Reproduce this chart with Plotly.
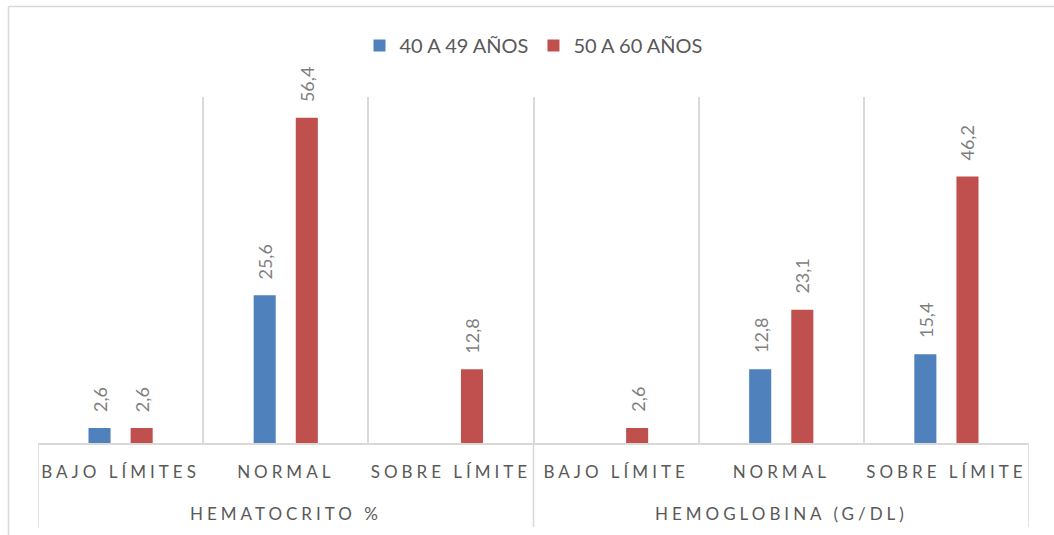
import plotly.graph_objects as go

# --- data -------------------------------------------------------------
group_names = ["HEMATOCRITO %", "HEMOGLOBINA (G/DL)"]
group_sizes = [3, 3]
categories = ["BAJO LÍMITES", "NORMAL", "SOBRE LÍMITE",
              "BAJO LÍMITE", "NORMAL", "SOBRE LÍMITE"]
series_names = ["40 A 49 AÑOS", "50 A 60 AÑOS"]
age_40_49 = [2.6, 25.6, None, None, 12.8, 15.4]
age_50_60 = [2.6, 56.4, 12.8, 2.6, 23.1, 46.2]
series_colors = ["#4F81BD", "#C0504D"]

# --- style ------------------------------------------------------------
FONT = "Lato"
TEXT_GREY = "#595959"
LABEL_GREY = "#7F7F7F"
LINE_GREY = "#D9D9D9"
BARGAP = 0.49
BARGROUPGAP = 0.476
SPACING = "4px"

positions = list(range(len(categories)))
boundaries = [p - 0.5 for p in positions] + [positions[-1] + 0.5]


def spaced(s):
    return f'<span style="letter-spacing:{SPACING}">{s}</span>'


def fmt(v):
    return f"{v:.1f}".replace(".", ",")


fig = go.Figure()
for name, values, color in zip(series_names, [age_40_49, age_50_60], series_colors):
    fig.add_trace(go.Bar(
        x=positions, y=values, name=name, marker_color=color,
        marker_line_width=0,
    ))

# value labels above each bar, rotated
slot = (1 - BARGAP) / len(series_names)
annotations = []
for k, values in enumerate([age_40_49, age_50_60]):
    offset = (k - (len(series_names) - 1) / 2) * slot
    for p, v in zip(positions, values):
        if v is None:
            continue
        annotations.append(dict(
            x=p + offset, y=v, xref="x", yref="y", text=fmt(v),
            textangle=-90, showarrow=False, xanchor="center", yanchor="bottom",
            yshift=14, font=dict(family=FONT, size=18, color=LABEL_GREY),
        ))

# group labels under the category labels, with dividers
plot_h = 535 - 97 - 92
shapes = []
start = 0
group_bounds = [-0.5]
for g, n in zip(group_names, group_sizes):
    centre = start + (n - 1) / 2
    annotations.append(dict(
        x=centre, y=-(513 - 443) / plot_h, xref="x", yref="paper",
        text=spaced(g), showarrow=False, xanchor="center", yanchor="middle",
        font=dict(family=FONT, size=17, color=TEXT_GREY),
    ))
    start += n
    group_bounds.append(start - 0.5)
for b in group_bounds:
    shapes.append(dict(type="line", xref="x", yref="paper", x0=b, x1=b,
                       y0=0, y1=-(527 - 443) / plot_h,
                       line=dict(color=LINE_GREY, width=1.5)))

# chart frame
plot_w = 1054 - 38 - 25
fx = (8.5 - 38) / plot_w
fy = (443 - 6.5) / plot_h
shapes.append(dict(type="line", xref="paper", yref="paper", x0=fx, x1=fx,
                   y0=-1, y1=fy, line=dict(color=LINE_GREY, width=1.5)))
shapes.append(dict(type="line", xref="paper", yref="paper", x0=fx, x1=1.2,
                   y0=fy, y1=fy, line=dict(color=LINE_GREY, width=1.5)))

fig.update_layout(
    width=1054, height=535,
    margin=dict(l=38, r=25, t=97, b=92),
    paper_bgcolor="white", plot_bgcolor="white",
    barmode="group", bargap=BARGAP, bargroupgap=BARGROUPGAP,
    font=dict(family=FONT, color=TEXT_GREY),
    legend=dict(orientation="h", x=0.5, xanchor="center",
                y=(443 - 45.5) / plot_h, yanchor="middle",
                font=dict(family=FONT, size=20, color=TEXT_GREY),
                itemwidth=30),
    xaxis=dict(
        range=[-0.5, len(categories) - 0.5],
        tickmode="array", tickvals=positions,
        ticktext=[spaced(c) for c in categories],
        tickfont=dict(family=FONT, size=17, color=TEXT_GREY),
        ticks="", showgrid=False, zeroline=False, ticklabelstandoff=13,
        showline=True, linecolor=LINE_GREY, linewidth=1.5,
        minor=dict(tickmode="array", tickvals=boundaries,
                   showgrid=True, gridcolor=LINE_GREY, gridwidth=1.5, ticks=""),
        fixedrange=True,
    ),
    yaxis=dict(range=[0, 60], visible=False, showgrid=False, zeroline=False,
               fixedrange=True),
    annotations=annotations,
    shapes=shapes,
)

fig.write_html("out.html")
